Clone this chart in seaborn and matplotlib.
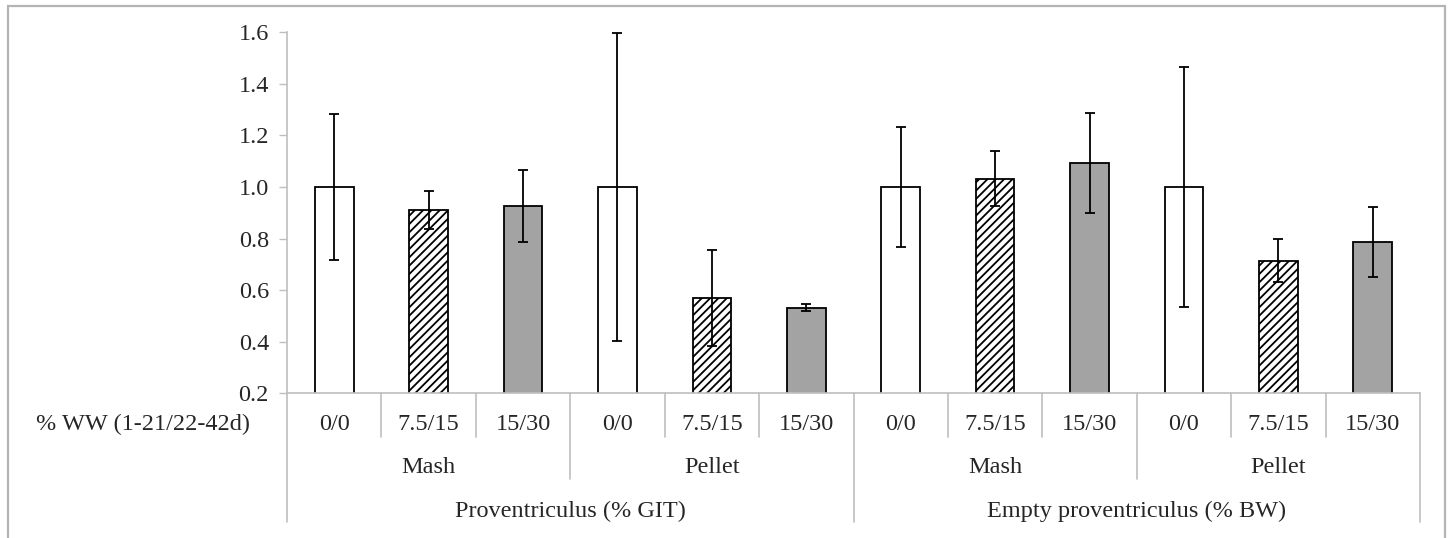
import numpy as np
import pandas as pd
import matplotlib.pyplot as plt
import seaborn as sns
from matplotlib.patches import Rectangle
from matplotlib.lines import Line2D

# --- Data ---
measures = ['Proventriculus (% GIT)', 'Empty proventriculus (% BW)']
forms = ['Mash', 'Pellet']
levels = ['0/0', '7.5/15', '15/30']
row_title = '% WW (1-21/22-42d)'

# means and error (±) per bar, order: Mash 0/0, 7.5/15, 15/30, Pellet 0/0, 7.5/15, 15/30
git_mean = [1.00, 0.91, 0.926, 1.00, 0.57, 0.532]
git_err = [0.282, 0.074, 0.14, 0.597, 0.186, 0.014]
bw_mean = [1.00, 1.033, 1.093, 1.00, 0.714, 0.786]
bw_err = [0.232, 0.106, 0.195, 0.465, 0.083, 0.136]

level_colors = {'0/0': 'white', '7.5/15': 'white', '15/30': '#a3a3a3'}
level_hatch = {'0/0': '', '7.5/15': '////', '15/30': ''}

rows = []
for m, means, errs in [(measures[0], git_mean, git_err), (measures[1], bw_mean, bw_err)]:
    i = 0
    for f in forms:
        for lv in levels:
            rows.append({'measure': m, 'form': f, 'level': lv,
                         'key': f'{m}|{f}|{lv}', 'mean': means[i], 'err': errs[i]})
            i += 1
df = pd.DataFrame(rows)

# --- Style ---
sns.set_style('white')
plt.rcParams['font.family'] = ['Liberation Serif', 'DejaVu Serif']
plt.rcParams['hatch.linewidth'] = 1.3
FS = 17.5
GRID = '#bfbfbf'

fig = plt.figure(figsize=(14.48, 5.38), dpi=100)
ax = fig.add_axes([287 / 1448, 1 - 393.3 / 538, (1420 - 287) / 1448, (393.3 - 32.3) / 538])

sns.barplot(data=df, x='key', y='mean', hue='level', palette=level_colors,
            order=df['key'], hue_order=levels, dodge=False, width=0.41,
            edgecolor='black', linewidth=1.3, legend=False, ax=ax)

for p in ax.patches:
    idx = int(round(p.get_x() + p.get_width() / 2))
    p.set_hatch(level_hatch[df.loc[idx, 'level']])

xs = np.arange(len(df))
ax.errorbar(xs, df['mean'], yerr=df['err'], fmt='none', ecolor='black',
            elinewidth=1.3, capsize=3.6, capthick=1.3, zorder=5)

ax.set_ylim(0.2, 1.6)
ax.set_yticks(np.arange(0.2, 1.61, 0.2))
ax.set_yticklabels([f'{v:.1f}' for v in np.arange(0.2, 1.61, 0.2)], fontsize=FS)
ax.set_xlim(-0.5, len(df) - 0.5)
ax.set_xticks([])
ax.set_xlabel('')
ax.set_ylabel('')
ax.tick_params(axis='y', left=True, length=6, width=1, color=GRID, pad=7)

for s in ['top', 'right']:
    ax.spines[s].set_visible(False)
ax.spines['left'].set_color(GRID)
ax.spines['bottom'].set_color(GRID)
ax.spines['left'].set_linewidth(1.2)
ax.spines['bottom'].set_linewidth(1.2)

# --- Hierarchical category labels ---
tr = ax.get_xaxis_transform()
y_lvl, y_form, y_meas = -0.1017, -0.2216, -0.3418
sep_lvl, sep_form, sep_meas = -0.121, -0.237, -0.356

for i, r in df.iterrows():
    ax.text(i, y_lvl, r['level'], transform=tr, ha='center', va='baseline', fontsize=FS)
for k in range(len(measures) * len(forms)):
    ax.text(k * 3 + 1, y_form, forms[k % 2], transform=tr, ha='center', va='baseline', fontsize=FS)
for k, m in enumerate(measures):
    ax.text(k * 6 + 2.5, y_meas, m, transform=tr, ha='center', va='baseline', fontsize=FS)

for b in range(len(df) + 1):
    xb = b - 0.5
    if b % 6 == 0:
        y_end = sep_meas
    elif b % 3 == 0:
        y_end = sep_form
    else:
        y_end = sep_lvl
    ax.add_line(Line2D([xb, xb], [0, y_end], transform=tr, color=GRID,
                       linewidth=1.2, clip_on=False))

ax.text(-0.033, y_lvl, row_title, transform=ax.transAxes, ha='right',
        va='baseline', fontsize=FS)

# outer chart border
fig.patches.append(Rectangle((8 / 1448, -0.02), (1445 - 8) / 1448, 1.02 - 6 / 538,
                             transform=fig.transFigure, fill=False,
                             edgecolor='#b4b4b4', linewidth=1.6))

fig.savefig('out.png', dpi=100)
